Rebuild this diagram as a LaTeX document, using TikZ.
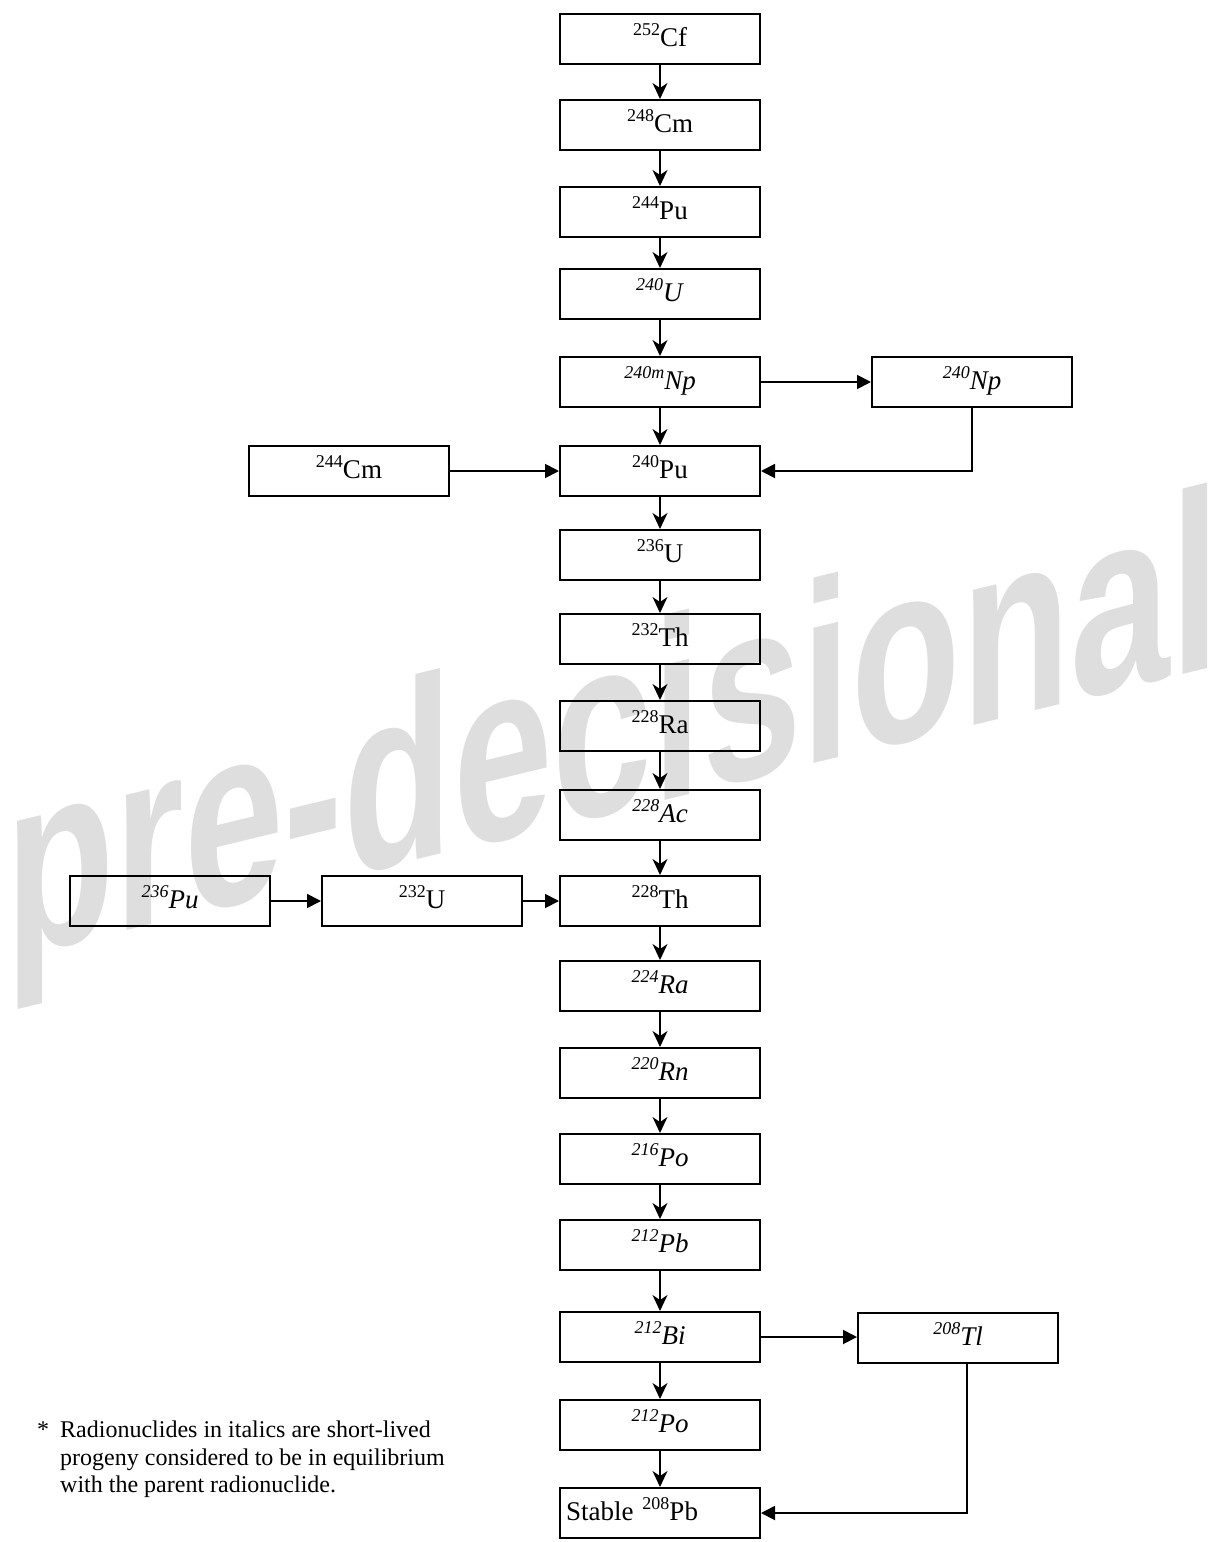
\documentclass[tikz,border=0pt]{standalone}
\usepackage{fontspec}
\setmainfont{Liberation Serif}
\newfontfamily\wmfont{Liberation Sans}
\usetikzlibrary{arrows.meta}
\definecolor{wmgray}{RGB}{222,222,222}
\newcommand{\nuc}[2]{\raisebox{10.5pt}{\fontsize{18}{18}\selectfont #1}#2}
\newcommand{\inuc}[2]{\textit{\nuc{#1}{#2}}}
\begin{document}
\begin{tikzpicture}[x=1pt,y=-1pt,
  box/.style={draw, line width=2pt, minimum width=200pt, minimum height=50pt,
    inner sep=0pt, text height=18pt, text depth=4pt,
    font=\fontsize{27}{27}\selectfont, anchor=north west},
  varr/.style={line width=1.8pt, -{Stealth[length=16pt,width=15pt,inset=5pt]}},
  harr/.style={line width=1.8pt, -{Triangle[length=14pt,width=14pt]}},
  fn/.style={inner sep=0pt, anchor=base west, font=\fontsize{24}{24}\selectfont},
]
\useasboundingbox (0,0) rectangle (1225,1542);

% watermark
\begin{scope}[shift={(5,960)}, yslant=0.2425, xscale=0.70]
\node[transform shape, anchor=base west, inner sep=0pt, text=wmgray,
  font=\wmfont\bfseries\fontsize{256}{256}\selectfont] (wm) at (0,0) {pre-decisional};
\end{scope}

% main chain
\node[box] (cf)   at (559,13)   {\nuc{252}{Cf}};
\node[box] (cmA)  at (559,99)   {\nuc{248}{Cm}};
\node[box] (puA)  at (559,186)  {\nuc{244}{Pu}};
\node[box] (uA)   at (559,268)  {\inuc{240}{U}};
\node[box] (npm)  at (559,356)  {\inuc{240m}{Np}};
\node[box] (np)   at (871,356)  {\inuc{240}{Np}};
\node[box] (puB)  at (559,445)  {\nuc{240}{Pu}};
\node[box] (cmB)  at (248,445)  {\nuc{244}{Cm}};
\node[box] (uB)   at (559,529)  {\nuc{236}{U}};
\node[box] (thA)  at (559,613)  {\nuc{232}{Th}};
\node[box] (raA)  at (559,700)  {\nuc{228}{Ra}};
\node[box] (ac)   at (559,789)  {\inuc{228}{Ac}};
\node[box] (thB)  at (559,875)  {\nuc{228}{Th}};
\node[box] (puC)  at (69,875)   {\inuc{236}{Pu}};
\node[box] (uC)   at (321,875)  {\nuc{232}{U}};
\node[box] (raB)  at (559,960)  {\inuc{224}{Ra}};
\node[box] (rn)   at (559,1047) {\inuc{220}{Rn}};
\node[box] (poA)  at (559,1133) {\inuc{216}{Po}};
\node[box] (pbA)  at (559,1219) {\inuc{212}{Pb}};
\node[box] (bi)   at (559,1311) {\inuc{212}{Bi}};
\node[box] (tl)   at (857,1312) {\inuc{208}{Tl}};
\node[box] (poB)  at (559,1399) {\inuc{212}{Po}};
\node[box, text width=188pt, inner xsep=6pt, align=left] (pbB) at (559,1487) {Stable \nuc{208}{Pb}};

% vertical arrows
\foreach \a/\b in {cf/cmA, cmA/puA, puA/uA, uA/npm, npm/puB, puB/uB, uB/thA, thA/raA,
  raA/ac, ac/thB, thB/raB, raB/rn, rn/poA, poA/pbA, pbA/bi, bi/poB, poB/pbB}
  \draw[varr] (\a) -- (\b);

% side arrows
\draw[harr] (npm) -- (np);
\draw[harr] (np.south) |- (puB.east);
\draw[harr] (cmB) -- (puB);
\draw[harr] (puC) -- (uC);
\draw[harr] (uC) -- (thB);
\draw[harr] (bi.east) -- (tl.west |- bi.east);
\coordinate (tldrop) at ([xshift=-92pt]tl.south east);
\draw[harr] (tldrop) |- (pbB.east);

% footnote
\node[fn] (ast) at (37,1437) {*};
\node[fn] (fn1) at (60,1437) {Radionuclides in italics are short-lived};
\node[fn] (fn2) at (60,1465) {progeny considered to be in equilibrium};
\node[fn] (fn3) at (60,1492) {with the parent radionuclide.};
\end{tikzpicture}
\end{document}
